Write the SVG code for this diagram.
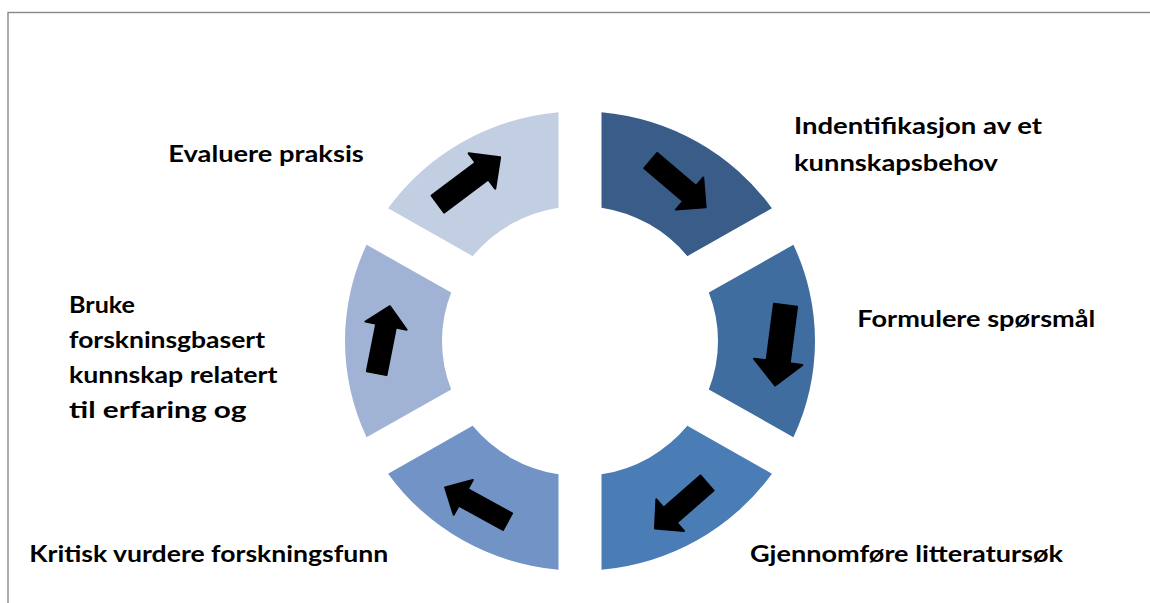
<svg xmlns="http://www.w3.org/2000/svg" width="1150" height="603" viewBox="0 0 1150 603">
<style>
.lbl{font-family:Lato,"Open Sans","Liberation Sans",sans-serif;font-weight:bold;font-size:22.5px;fill:#000}
.arr{fill:#000;stroke:#000;stroke-width:2;stroke-linejoin:round}
</style>
<defs>
<path id="arrow" d="M-36,-10 L15,-10 L15,-21 L36,0 L15,21 L15,10 L-36,10 Z"/>
</defs>
<rect x="8" y="12.5" width="1300" height="800" fill="none" stroke="#888" stroke-width="1.4"/>
<g id="node-identifikasjon">
<path fill="#395C89" transform="translate(580,341) scale(1,0.978)" d="M21.5,-234.01 A235,235 0 0 1 191.91,-135.63 L107.31,-86.78 A138,138 0 0 0 21.5,-136.32 Z"/>
<text class="lbl" x="794" y="134.3" textLength="248" lengthAdjust="spacingAndGlyphs">Indentifikasjon av et</text>
<text class="lbl" x="794" y="170.7" textLength="204" lengthAdjust="spacingAndGlyphs">kunnskapsbehov</text>
</g>
<g id="node-formulere">
<path fill="#406D9F" transform="translate(580,341) scale(1,0.978)" d="M213.41,-98.39 A235,235 0 0 1 213.41,98.39 L128.81,49.54 A138,138 0 0 0 128.81,-49.54 Z"/>
<text class="lbl" x="857.3" y="326.7" textLength="238" lengthAdjust="spacingAndGlyphs">Formulere spørsmål</text>
</g>
<g id="node-gjennomfore">
<path fill="#4A7CB6" transform="translate(580,341) scale(1,0.978)" d="M191.91,135.63 A235,235 0 0 1 21.5,234.01 L21.5,136.32 A138,138 0 0 0 107.31,86.78 Z"/>
<text class="lbl" x="750" y="561.7" textLength="313" lengthAdjust="spacingAndGlyphs">Gjennomføre litteratursøk</text>
</g>
<g id="node-kritisk">
<path fill="#7293C5" transform="translate(580,341) scale(1,0.978)" d="M-21.5,234.01 A235,235 0 0 1 -191.91,135.63 L-107.31,86.78 A138,138 0 0 0 -21.5,136.32 Z"/>
<text class="lbl" x="29.3" y="561.7" textLength="359" lengthAdjust="spacingAndGlyphs">Kritisk vurdere forskningsfunn</text>
</g>
<g id="node-bruke">
<path fill="#A1B3D4" transform="translate(580,341) scale(1,0.978)" d="M-213.41,98.39 A235,235 0 0 1 -213.41,-98.39 L-128.81,-49.54 A138,138 0 0 0 -128.81,49.54 Z"/>
<text class="lbl" x="69" y="312.7" textLength="66" lengthAdjust="spacingAndGlyphs">Bruke</text>
<text class="lbl" x="69" y="348.3" textLength="196" lengthAdjust="spacingAndGlyphs">forskninsgbasert</text>
<text class="lbl" x="69" y="383.3" textLength="208.5" lengthAdjust="spacingAndGlyphs">kunnskap relatert</text>
<text class="lbl" x="69" y="418.3" textLength="177.5" lengthAdjust="spacingAndGlyphs">til erfaring og</text>
</g>
<g id="node-evaluere">
<path fill="#C2CEE2" transform="translate(580,341) scale(1,0.978)" d="M-191.91,-135.63 A235,235 0 0 1 -21.5,-234.01 L-21.5,-136.32 A138,138 0 0 0 -107.31,-86.78 Z"/>
<text class="lbl" x="168.3" y="161.7" textLength="195.5" lengthAdjust="spacingAndGlyphs">Evaluere praksis</text>
</g>
<g id="connectors">
<use href="#arrow" class="arr" transform="translate(678.2,183.9) rotate(40.4)"/>
<use href="#arrow" class="arr" transform="translate(780.3,345.3) rotate(97.4) scale(1.12,1.15)"/>
<use href="#arrow" class="arr" transform="translate(681,505.7) rotate(138.9) scale(0.96,1)"/>
<use href="#arrow" class="arr" transform="translate(476.3,504.5) rotate(208.8) scale(0.99,0.95)"/>
<use href="#arrow" class="arr" transform="translate(383.3,339.7) rotate(-78.8) scale(0.95,1)"/>
<use href="#arrow" class="arr" transform="translate(469,180.7) rotate(-37) scale(1.08,1.05)"/>
</g>
</svg>
